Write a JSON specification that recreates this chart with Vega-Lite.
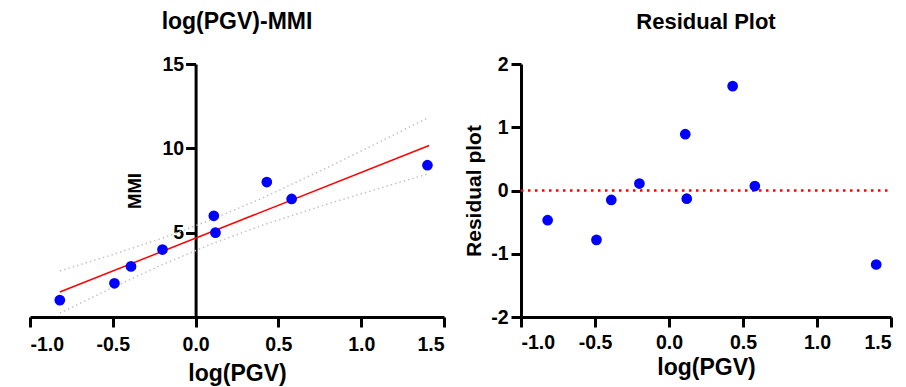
{
  "$schema": "https://vega.github.io/schema/vega-lite/v6.json",
  "background": "white",
  "padding": {"left": 28, "top": 11, "right": 5, "bottom": 5},
  "spacing": 17,
  "config": {
    "view": {"stroke": null},
    "font": "Liberation Sans",
    "axis": {
      "grid": false,
      "domainColor": "black",
      "domainWidth": 3,
      "tickColor": "black",
      "tickWidth": 3,
      "tickSize": 10,
      "labelFont": "Liberation Sans",
      "labelFontWeight": "bold",
      "labelFontSize": 19.5,
      "labelColor": "black",
      "titleFont": "Liberation Sans",
      "titleFontWeight": "bold",
      "titleColor": "black"
    },
    "title": {"font": "Liberation Sans", "fontWeight": "bold", "color": "black", "anchor": "middle"}
  },
  "datasets": {
    "points": [
      {"logPGV": -0.82, "MMI": 1, "residual": -0.47},
      {"logPGV": -0.49, "MMI": 2, "residual": -0.78},
      {"logPGV": -0.39, "MMI": 3, "residual": -0.15},
      {"logPGV": -0.20, "MMI": 4, "residual": 0.11},
      {"logPGV": 0.11, "MMI": 6, "residual": 0.89},
      {"logPGV": 0.12, "MMI": 5, "residual": -0.13},
      {"logPGV": 0.43, "MMI": 8, "residual": 1.65},
      {"logPGV": 0.58, "MMI": 7, "residual": 0.07},
      {"logPGV": 1.40, "MMI": 9, "residual": -1.17}
    ],
    "fit": [
      {"logPGV": -0.82, "MMI": 1.48},
      {"logPGV": 1.41, "MMI": 10.17}
    ],
    "zero": [
      {"logPGV": -1.0, "residual": 0},
      {"logPGV": 1.5, "residual": 0}
    ],
    "bands": [
      {"logPGV": -0.82, "MMI": 2.73, "band": "upper"},
      {"logPGV": -0.5, "MMI": 3.70, "band": "upper"},
      {"logPGV": -0.2, "MMI": 4.68, "band": "upper"},
      {"logPGV": 0.083, "MMI": 5.72, "band": "upper"},
      {"logPGV": 0.4, "MMI": 7.04, "band": "upper"},
      {"logPGV": 0.8, "MMI": 8.88, "band": "upper"},
      {"logPGV": 1.1, "MMI": 10.32, "band": "upper"},
      {"logPGV": 1.41, "MMI": 11.84, "band": "upper"},
      {"logPGV": -0.82, "MMI": 0.23, "band": "lower"},
      {"logPGV": -0.5, "MMI": 1.75, "band": "lower"},
      {"logPGV": -0.2, "MMI": 3.11, "band": "lower"},
      {"logPGV": 0.083, "MMI": 4.28, "band": "lower"},
      {"logPGV": 0.4, "MMI": 5.43, "band": "lower"},
      {"logPGV": 0.8, "MMI": 6.71, "band": "lower"},
      {"logPGV": 1.1, "MMI": 7.60, "band": "lower"},
      {"logPGV": 1.41, "MMI": 8.50, "band": "lower"}
    ]
  },
  "hconcat": [
    {
      "width": 414,
      "height": 253,
      "title": {"text": "log(PGV)-MMI", "fontSize": 23, "offset": 20},
      "layer": [
        {
          "data": {"name": "bands"},
          "mark": {"type": "line", "color": "#c4c4c4", "strokeWidth": 1.5, "strokeDash": [1.5, 3]},
          "encoding": {
            "x": {"field": "logPGV", "type": "quantitative"},
            "y": {"field": "MMI", "type": "quantitative"},
            "detail": {"field": "band"}
          }
        },
        {
          "data": {"name": "fit"},
          "mark": {"type": "line", "color": "#ff0000", "strokeWidth": 1.5},
          "encoding": {
            "x": {"field": "logPGV", "type": "quantitative"},
            "y": {"field": "MMI", "type": "quantitative"}
          }
        },
        {
          "data": {"name": "points"},
          "mark": {"type": "point", "filled": true, "color": "#0000ff", "opacity": 1, "size": 115},
          "encoding": {
            "x": {
              "field": "logPGV", "type": "quantitative",
              "scale": {"domain": [-1, 1.5], "nice": false, "zero": false},
              "axis": {
                "title": "log(PGV)", "titleFontSize": 23, "titlePadding": 9,
                "values": [-1, -0.5, 0, 0.5, 1, 1.5],
                "labelExpr": "replace(format(datum.value, '.1f'), '\u2212', '-')",
                "labelPadding": 8
              }
            },
            "y": {
              "field": "MMI", "type": "quantitative",
              "scale": {"domain": [0, 15], "nice": false},
              "axis": {
                "title": "MMI", "titleFontSize": 18.5, "titlePadding": 17,
                "values": [5, 10, 15], "offset": -165.6, "labelPadding": 2
              }
            }
          }
        }
      ]
    },
    {
      "width": 370,
      "height": 253,
      "title": {"text": "Residual Plot", "fontSize": 22, "offset": 20},
      "layer": [
        {
          "data": {"name": "zero"},
          "mark": {"type": "line", "color": "#ff0000", "strokeWidth": 2.5, "strokeDash": [2.5, 4.5]},
          "encoding": {
            "x": {"field": "logPGV", "type": "quantitative"},
            "y": {"field": "residual", "type": "quantitative"}
          }
        },
        {
          "data": {"name": "points"},
          "mark": {"type": "point", "filled": true, "color": "#0000ff", "opacity": 1, "size": 115},
          "encoding": {
            "x": {
              "field": "logPGV", "type": "quantitative",
              "scale": {"domain": [-1, 1.5], "nice": false, "zero": false},
              "axis": {
                "title": "log(PGV)", "titleFontSize": 23, "titlePadding": 5,
                "values": [-1, -0.5, 0, 0.5, 1, 1.5],
                "labelExpr": "replace(format(datum.value, '.1f'), '\u2212', '-')",
                "labelPadding": 6
              }
            },
            "y": {
              "field": "residual", "type": "quantitative",
              "scale": {"domain": [-2, 2], "nice": false},
              "axis": {
                "title": "Residual plot", "titleFontSize": 21, "titlePadding": 6,
                "values": [-2, -1, 0, 1, 2],
                "labelExpr": "replace(format(datum.value, 'd'), '\u2212', '-')",
                "labelPadding": 3
              }
            }
          }
        }
      ]
    }
  ]
}
